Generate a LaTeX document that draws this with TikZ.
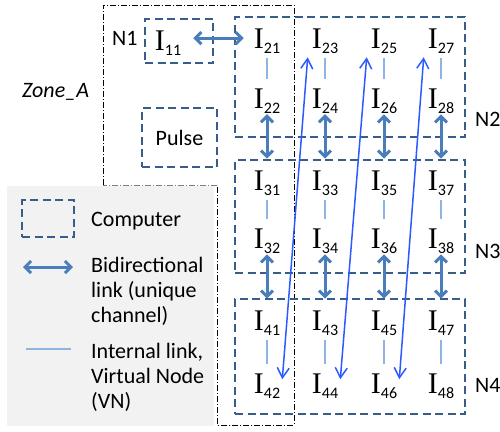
\documentclass[tikz,border=0pt]{standalone}
\usepackage{fontspec}
\setmainfont{Carlito}
\newfontfamily\serifI{Liberation Serif}
\usetikzlibrary{arrows.meta,calc}
\definecolor{boxcol}{HTML}{385D8A}
\definecolor{linkcol}{HTML}{4A7EBB}
\definecolor{vncol}{HTML}{8EB4E3}
\definecolor{diagcol}{HTML}{2B5AFF}
\definecolor{legfill}{HTML}{F2F2F2}
% instance label: serif I with a sans subscript
\newcommand\lab[1]{{\serifI\fontsize{30}{30}\selectfont I}\raisebox{-5pt}{\fontsize{16}{16}\selectfont #1}}

\begin{document}
\begin{tikzpicture}[x=1pt,y=-1pt,
  txt/.style={inner sep=0pt, anchor=base west, font=\fontsize{22}{25}\selectfont},
  lbl/.style={inner sep=0pt, anchor=base},
  compbox/.style={draw=boxcol, line width=2.4pt, dash pattern=on 8pt off 4.5pt, inner sep=0pt},
  bidir/.style={draw=linkcol, line width=3pt, {Straight Barb[length=6pt,width=12pt]}-{Straight Barb[length=6pt,width=12pt]}},
  vnlink/.style={draw=vncol, line width=1.5pt},
  diag/.style={draw=diagcol, line width=1.5pt, {Straight Barb[length=10pt,width=12pt]}-{Straight Barb[length=10pt,width=12pt]}},
  zone/.style={draw=black, line width=0.8pt, dash pattern=on 6pt off 2pt on 1pt off 2pt}
]
\useasboundingbox (0,0) rectangle (500,431);

% legend background
\fill[legfill] (7,186) rectangle (214,426);

% Zone_A outline
\draw[zone] (103,185) -- (103,5) -- (294,5) -- (294,425) -- (217,425) -- (217,185);
\draw[zone, draw=gray] (217,185) -- (103,185);

% computers
\node[compbox, minimum width=68pt, minimum height=44pt] (c1) at (179,41) {};
\node[compbox, minimum width=75pt, minimum height=59pt, font=\fontsize{22}{25}\selectfont] (pulse) at (179.5,137.5) {Pulse};
\node[compbox, minimum width=230pt, minimum height=120pt] (n2) at (350,77) {};
\node[compbox, minimum width=230pt, minimum height=113pt] (n3) at (350,216.5) {};
\node[compbox, minimum width=230pt, minimum height=115pt] (n4) at (350,356.5) {};

% computer names
\node[txt] (t1) at (112,45) {N1};
\node[txt] (t2) at (475,126) {N2};
\node[txt] (t3) at (475,258) {N3};
\node[txt] (t4) at (475,392) {N4};
\node[txt] (zone) at (22,97) {\itshape Zone\_A};

% instances
\node[lbl] (i11) at (168,50) {\lab{11}};
\foreach \x [count=\k] in {267,325,384,441} {
  \pgfmathtruncatemacro\od{2*\k-1}
  \pgfmathtruncatemacro\ev{2*\k}
  \node[lbl] (i2\od) at (\x,48)  {\lab{2\od}};
  \node[lbl] (i2\ev) at (\x,108) {\lab{2\ev}};
  \node[lbl] (i3\od) at (\x,190) {\lab{3\od}};
  \node[lbl] (i3\ev) at (\x,248) {\lab{3\ev}};
  \node[lbl] (i4\od) at (\x,330) {\lab{4\od}};
  \node[lbl] (i4\ev) at (\x,393) {\lab{4\ev}};
}

% internal links inside the virtual nodes
\foreach \a/\b in {21/22,23/24,25/26,27/28,31/32,33/34,35/36,37/38,41/42,43/44,45/46,47/48}
  \draw[vnlink, shorten <=5pt, shorten >=9.5pt] (i\a.south) -- (i\b.north);

% bidirectional links between computers
\foreach \a/\b in {22/31,24/33,26/35,28/37,32/41,34/43,36/45,38/47}
  \draw[bidir, shorten <=1pt, shorten >=11.5pt] (i\a.south) -- (i\b.north);
\draw[bidir] ($(i11.east)+(12,-4.5)$) -- ($(i11.east -| i21.west)+(-10,-4.5)$);

% long links across the grid
\draw[diag] ($(i42.north east)+(2,6)$) -- ($(i23.south west)+(-4,4)$);
\draw[diag] ($(i44.north east)+(2,6)$) -- ($(i25.south west)+(-4,4)$);
\draw[diag] ($(i46.north east)+(2,6)$) -- ($(i27.south west)+(-4,4)$);

% legend
\node[compbox, minimum width=52pt, minimum height=37pt] (lgbox) at (48,218.5) {};
\node[txt] (lg1) at (91,226) {Computer};
\coordinate (la1) at (23,267);
\coordinate (la2) at (73,267);
\draw[bidir] (la1) -- (la2);
\node[txt] (lg2a) at (91,272) {Bidirectional};
\node[txt] (lg2b) at (91,297) {link (unique};
\node[txt] (lg2c) at (91,322) {channel)};
\coordinate (lv1) at (26,349);
\coordinate (lv2) at (71,349);
\draw[vnlink] (lv1) -- (lv2);
\node[txt] (lg3a) at (91,358) {Internal link,};
\node[txt] (lg3b) at (91,383) {Virtual Node};
\node[txt] (lg3c) at (91,408) {(VN)};
\end{tikzpicture}
\end{document}
